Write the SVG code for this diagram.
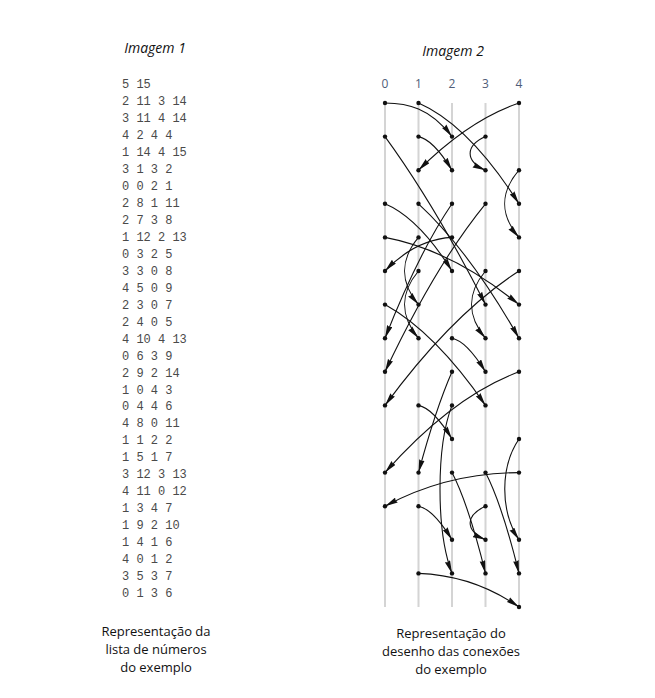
<svg xmlns="http://www.w3.org/2000/svg" width="655" height="698" viewBox="0 0 655 698">
<style>
.title{font-family:"Open Sans","Liberation Sans",sans-serif;font-style:italic;font-size:14px;fill:#111;text-anchor:middle}
.cap{font-family:"Open Sans","Liberation Sans",sans-serif;font-size:13px;fill:#111;text-anchor:middle}
.num{font-family:"Liberation Mono","DejaVu Sans Mono",monospace;font-size:12px;fill:#4a4a4a}
.col{font-family:"Open Sans","Liberation Sans",sans-serif;font-size:12px;fill:#4f5d78;text-anchor:middle}
.rail{stroke:#d4d4d4;stroke-width:2}
.conn path{fill:none;stroke:#111;stroke-width:1.1;marker-end:url(#ah)}
.dot{fill:#111}
</style>
<defs>
<marker id="ah" markerWidth="14" markerHeight="6" refX="13" refY="3" orient="auto" markerUnits="userSpaceOnUse">
<path d="M0,0.2 L13,3 L0,5.8 L1,3 Z" fill="#111"/>
</marker>
</defs>
<rect width="655" height="698" fill="#fff"/>

<text class="title" x="155" y="53">Imagem 1</text>
<text class="title" x="453" y="56">Imagem 2</text>

<g id="number-list" class="num">
<text x="122" y="88">5 15</text>
<text x="122" y="105">2 11 3 14</text>
<text x="122" y="121.9">3 11 4 14</text>
<text x="122" y="138.9">4 2 4 4</text>
<text x="122" y="155.9">1 14 4 15</text>
<text x="122" y="172.9">3 1 3 2</text>
<text x="122" y="189.8">0 0 2 1</text>
<text x="122" y="206.8">2 8 1 11</text>
<text x="122" y="223.8">2 7 3 8</text>
<text x="122" y="240.7">1 12 2 13</text>
<text x="122" y="257.7">0 3 2 5</text>
<text x="122" y="274.7">3 3 0 8</text>
<text x="122" y="291.6">4 5 0 9</text>
<text x="122" y="308.6">2 3 0 7</text>
<text x="122" y="325.6">2 4 0 5</text>
<text x="122" y="342.6">4 10 4 13</text>
<text x="122" y="359.5">0 6 3 9</text>
<text x="122" y="376.5">2 9 2 14</text>
<text x="122" y="393.5">1 0 4 3</text>
<text x="122" y="410.4">0 4 4 6</text>
<text x="122" y="427.4">4 8 0 11</text>
<text x="122" y="444.4">1 1 2 2</text>
<text x="122" y="461.3">1 5 1 7</text>
<text x="122" y="478.3">3 12 3 13</text>
<text x="122" y="495.3">4 11 0 12</text>
<text x="122" y="512.3">1 3 4 7</text>
<text x="122" y="529.2">1 9 2 10</text>
<text x="122" y="546.2">1 4 1 6</text>
<text x="122" y="563.2">4 0 1 2</text>
<text x="122" y="580.1">3 5 3 7</text>
<text x="122" y="597.1">0 1 3 6</text>
</g>

<g id="columns">
<line class="rail" x1="385" y1="103" x2="385" y2="607"/>
<line class="rail" x1="418.5" y1="103" x2="418.5" y2="607"/>
<line class="rail" x1="452" y1="103" x2="452" y2="607"/>
<line class="rail" x1="485.5" y1="103" x2="485.5" y2="607"/>
<line class="rail" x1="519" y1="103" x2="519" y2="607"/>
<text class="col" x="385" y="87.5">0</text>
<text class="col" x="418.5" y="87.5">1</text>
<text class="col" x="452" y="87.5">2</text>
<text class="col" x="485.5" y="87.5">3</text>
<text class="col" x="519" y="87.5">4</text>
</g>

<g id="connectors" class="conn">
<path d="M452,472.6 C463.2,494.2 474.3,527.8 485.5,573.4"/>
<path d="M485.5,472.6 C496.7,494.2 507.8,527.8 519,573.4"/>
<path d="M519,170.2 C500,192.2 500,215.4 519,237.4"/>
<path d="M418.5,573.4 C452,574.6 485.5,583.8 519,607"/>
<path d="M485.5,136.6 C465,146 465,161 485.5,170.2"/>
<path d="M385,103 C407.3,103.2 429.7,107.4 452,136.6"/>
<path d="M452,371.8 C440.8,397.4 429.7,431 418.5,472.6"/>
<path d="M452,338.2 C463.2,340.4 474.3,353.6 485.5,371.8"/>
<path d="M418.5,506.2 C429.7,508.4 440.8,521.6 452,539.8"/>
<path d="M385,203.8 C407.3,213.2 429.7,235.6 452,271"/>
<path d="M485.5,203.8 C452,244.8 418.5,300.8 385,371.8"/>
<path d="M519,271 C474.3,299.8 429.7,344.6 385,405.4"/>
<path d="M452,203.8 C429.7,236.6 407.3,281.4 385,338.2"/>
<path d="M452,237.4 C429.7,238.6 407.3,247.8 385,271"/>
<path d="M519,439 C500,467 500,511 519,539.8"/>
<path d="M385,304.6 C418.5,323.2 452,356.8 485.5,405.4"/>
<path d="M452,405.4 C436,447 436,531 452,573.4"/>
<path d="M418.5,103 C452,117.6 485.5,151.2 519,203.8"/>
<path d="M385,237.4 C429.7,245.8 474.3,268.2 519,304.6"/>
<path d="M519,371.8 C474.3,388.4 429.7,422 385,472.6"/>
<path d="M418.5,136.6 C429.7,138.8 440.8,152 452,170.2"/>
<path d="M418.5,271 C400,293 400,316.2 418.5,338.2"/>
<path d="M485.5,506.2 C465,515.6 465,530.6 485.5,539.8"/>
<path d="M519,472.6 C474.3,472.8 429.7,482 385,506.2"/>
<path d="M418.5,203.8 C452,234.6 485.5,279.4 519,338.2"/>
<path d="M418.5,405.4 C429.7,407.6 440.8,420.8 452,439"/>
<path d="M418.5,237.4 C400,259.4 400,282.6 418.5,304.6"/>
<path d="M519,103 C485.5,114.4 452,136.8 418.5,170.2"/>
<path d="M485.5,271 C467,293 467,316.2 485.5,338.2"/>
<path d="M385,136.6 C418.5,182.6 452,238.6 485.5,304.6"/>
</g>

<g id="nodes" class="dot">
<g id="n0-0"><circle cx="385" cy="103" r="2.2"/></g>
<g id="n1-0"><circle cx="418.5" cy="103" r="2.2"/></g>
<g id="n4-0"><circle cx="519" cy="103" r="2.2"/></g>
<g id="n0-1"><circle cx="385" cy="136.6" r="2.2"/></g>
<g id="n1-1"><circle cx="418.5" cy="136.6" r="2.2"/></g>
<g id="n2-1"><circle cx="452" cy="136.6" r="2.2"/></g>
<g id="n3-1"><circle cx="485.5" cy="136.6" r="2.2"/></g>
<g id="n1-2"><circle cx="418.5" cy="170.2" r="2.2"/></g>
<g id="n2-2"><circle cx="452" cy="170.2" r="2.2"/></g>
<g id="n3-2"><circle cx="485.5" cy="170.2" r="2.2"/></g>
<g id="n4-2"><circle cx="519" cy="170.2" r="2.2"/></g>
<g id="n0-3"><circle cx="385" cy="203.8" r="2.2"/></g>
<g id="n1-3"><circle cx="418.5" cy="203.8" r="2.2"/></g>
<g id="n2-3"><circle cx="452" cy="203.8" r="2.2"/></g>
<g id="n3-3"><circle cx="485.5" cy="203.8" r="2.2"/></g>
<g id="n4-3"><circle cx="519" cy="203.8" r="2.2"/></g>
<g id="n0-4"><circle cx="385" cy="237.4" r="2.2"/></g>
<g id="n1-4"><circle cx="418.5" cy="237.4" r="2.2"/></g>
<g id="n2-4"><circle cx="452" cy="237.4" r="2.2"/></g>
<g id="n4-4"><circle cx="519" cy="237.4" r="2.2"/></g>
<g id="n0-5"><circle cx="385" cy="271" r="2.2"/></g>
<g id="n1-5"><circle cx="418.5" cy="271" r="2.2"/></g>
<g id="n2-5"><circle cx="452" cy="271" r="2.2"/></g>
<g id="n3-5"><circle cx="485.5" cy="271" r="2.2"/></g>
<g id="n4-5"><circle cx="519" cy="271" r="2.2"/></g>
<g id="n0-6"><circle cx="385" cy="304.6" r="2.2"/></g>
<g id="n1-6"><circle cx="418.5" cy="304.6" r="2.2"/></g>
<g id="n3-6"><circle cx="485.5" cy="304.6" r="2.2"/></g>
<g id="n4-6"><circle cx="519" cy="304.6" r="2.2"/></g>
<g id="n0-7"><circle cx="385" cy="338.2" r="2.2"/></g>
<g id="n1-7"><circle cx="418.5" cy="338.2" r="2.2"/></g>
<g id="n2-7"><circle cx="452" cy="338.2" r="2.2"/></g>
<g id="n3-7"><circle cx="485.5" cy="338.2" r="2.2"/></g>
<g id="n4-7"><circle cx="519" cy="338.2" r="2.2"/></g>
<g id="n0-8"><circle cx="385" cy="371.8" r="2.2"/></g>
<g id="n2-8"><circle cx="452" cy="371.8" r="2.2"/></g>
<g id="n3-8"><circle cx="485.5" cy="371.8" r="2.2"/></g>
<g id="n4-8"><circle cx="519" cy="371.8" r="2.2"/></g>
<g id="n0-9"><circle cx="385" cy="405.4" r="2.2"/></g>
<g id="n1-9"><circle cx="418.5" cy="405.4" r="2.2"/></g>
<g id="n2-9"><circle cx="452" cy="405.4" r="2.2"/></g>
<g id="n3-9"><circle cx="485.5" cy="405.4" r="2.2"/></g>
<g id="n2-10"><circle cx="452" cy="439" r="2.2"/></g>
<g id="n4-10"><circle cx="519" cy="439" r="2.2"/></g>
<g id="n0-11"><circle cx="385" cy="472.6" r="2.2"/></g>
<g id="n1-11"><circle cx="418.5" cy="472.6" r="2.2"/></g>
<g id="n2-11"><circle cx="452" cy="472.6" r="2.2"/></g>
<g id="n3-11"><circle cx="485.5" cy="472.6" r="2.2"/></g>
<g id="n4-11"><circle cx="519" cy="472.6" r="2.2"/></g>
<g id="n0-12"><circle cx="385" cy="506.2" r="2.2"/></g>
<g id="n1-12"><circle cx="418.5" cy="506.2" r="2.2"/></g>
<g id="n3-12"><circle cx="485.5" cy="506.2" r="2.2"/></g>
<g id="n2-13"><circle cx="452" cy="539.8" r="2.2"/></g>
<g id="n3-13"><circle cx="485.5" cy="539.8" r="2.2"/></g>
<g id="n4-13"><circle cx="519" cy="539.8" r="2.2"/></g>
<g id="n1-14"><circle cx="418.5" cy="573.4" r="2.2"/></g>
<g id="n2-14"><circle cx="452" cy="573.4" r="2.2"/></g>
<g id="n3-14"><circle cx="485.5" cy="573.4" r="2.2"/></g>
<g id="n4-14"><circle cx="519" cy="573.4" r="2.2"/></g>
<g id="n4-15"><circle cx="519" cy="607" r="2.2"/></g>
</g>

<g id="caption-1" class="cap">
<text x="156" y="636">Representação da</text>
<text x="156" y="654">lista de números</text>
<text x="156" y="672">do exemplo</text>
</g>
<g id="caption-2" class="cap">
<text x="451" y="637.5">Representação do</text>
<text x="451" y="655.5">desenho das conexões</text>
<text x="451" y="673.5">do exemplo</text>
</g>
</svg>
